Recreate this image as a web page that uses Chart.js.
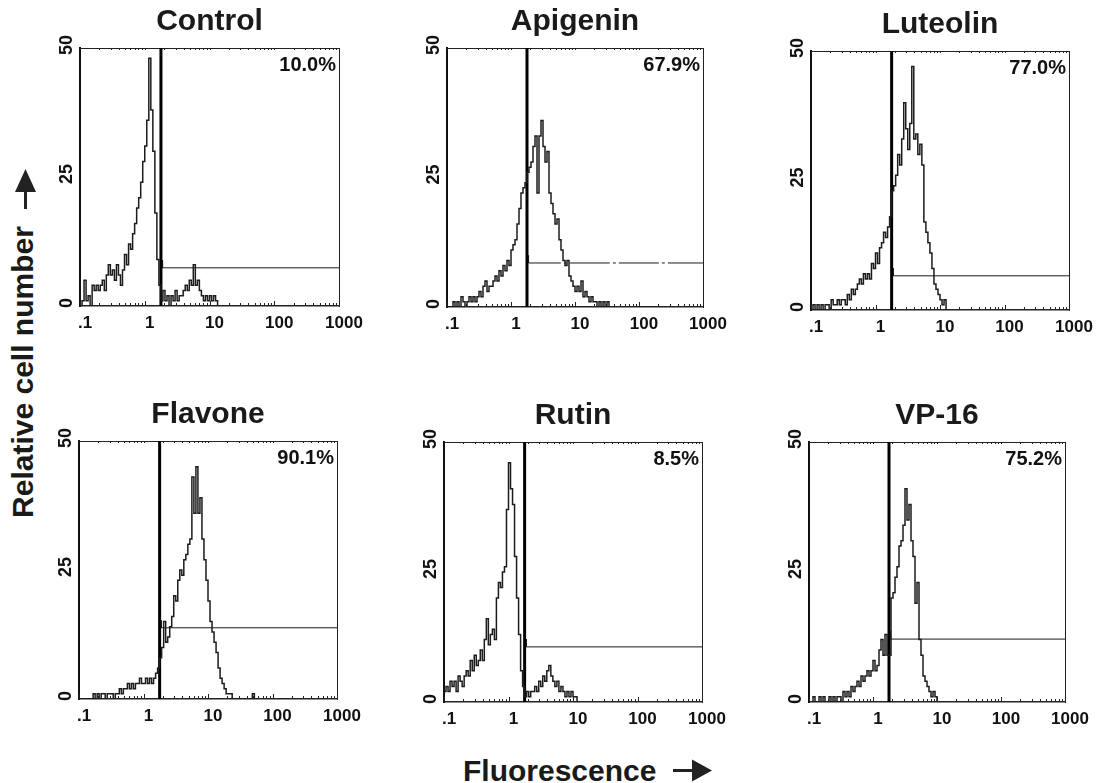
<!DOCTYPE html>
<html>
<head>
<meta charset="utf-8">
<title>Flow cytometry histograms</title>
<script src="https://cdn.jsdelivr.net/npm/chart.js@4.4.1/dist/chart.umd.min.js"></script>
<style>
  html, body { margin: 0; padding: 0; background: #fff; overflow: hidden; }
  body { width: 1098px; height: 783px; position: relative; font-family: "Liberation Sans", Arial, sans-serif; }
  canvas { position: absolute; }
  .axis-title { position: absolute; font-weight: bold; font-size: 30px; line-height: 1; color: #1a1a1a; white-space: nowrap; }
  #ytitle { left: 23px; top: 372px; transform: translate(-50%, -50%) rotate(-90deg); }
  #xtitle { left: 463px; top: 756px; }
  #arrows { position: absolute; left: 0; top: 0; }
</style>
</head>
<body>
<div class="axis-title" id="ytitle">Relative cell number</div>
<div class="axis-title" id="xtitle">Fluorescence</div>
<svg id="arrows" width="1098" height="783">
  <rect x="24" y="190" width="3" height="19" fill="#222"/>
  <polygon points="25.5,169 15,192 36,192" fill="#222"/>
  <rect x="673" y="769" width="21" height="3" fill="#222"/>
  <polygon points="712,770.5 692,759.5 692,781.5" fill="#222"/>
</svg>

<script>
// Histogram counts per log channel bin (32 bins per decade, bin 0 starts at .1)
const controlCounts = [
  0, 1, 5, 1, 2, 0, 4, 3, 4, 3,
  4, 5, 3, 6, 8, 6, 7, 5, 8, 6,
  4, 7, 10, 8, 12, 11, 14, 16, 19, 21,
  24, 28, 31, 36, 48, 38, 30, 18, 9, 4,
  1, 3, 1, 2, 0, 2, 1, 3, 1, 2,
  2, 3, 4, 3, 5, 4, 8, 4, 5, 3,
  2, 1, 2, 1, 2, 1, 2, 1, 0
];
const apigeninCounts = [
  0, 0, 0, 1, 0, 1, 0, 2, 1, 0,
  1, 2, 1, 2, 1, 2, 3, 2, 4, 5,
  3, 4, 4, 5, 6, 5, 7, 6, 8, 7,
  9, 8, 11, 12, 13, 16, 19, 22, 23, 24,
  26, 27, 28, 31, 33, 22, 33, 36, 31, 28,
  30, 22, 20, 18, 16, 17, 13, 11, 9, 8,
  9, 6, 5, 4, 3, 4, 3, 5, 2, 3,
  2, 1, 2, 1, 1, 0, 1, 0, 1, 0,
  1, 0
];
const luteolinCounts = [
  0, 1, 0, 1, 0, 1, 0, 1, 1, 0,
  2, 1, 1, 2, 1, 2, 2, 1, 3, 2,
  4, 3, 4, 5, 6, 5, 7, 6, 7, 6,
  9, 8, 11, 9, 12, 13, 15, 14, 16, 18,
  23, 24, 26, 30, 28, 33, 40, 35, 31, 36,
  47, 33, 34, 30, 32, 28, 17, 15, 13, 11,
  8, 5, 4, 3, 2, 1, 2, 0
];
const flavoneCounts = [
  0, 0, 0, 0, 0, 0, 0, 1, 0, 1,
  0, 1, 1, 0, 1, 1, 1, 0, 1, 1,
  2, 1, 2, 2, 3, 2, 3, 2, 3, 3,
  4, 3, 3, 4, 3, 4, 3, 4, 5, 6,
  8, 10, 15, 11, 12, 14, 16, 20, 19, 23,
  25, 24, 27, 28, 30, 31, 43, 36, 45, 36,
  39, 31, 27, 23, 19, 15, 13, 11, 9, 6,
  4, 3, 2, 1, 1, 1, 0, 0, 0, 0,
  0, 0, 0, 0, 0, 0, 1, 0
];
const rutinCounts = [
  2, 3, 2, 4, 3, 4, 2, 5, 4, 3,
  5, 6, 5, 8, 6, 9, 7, 8, 10, 8,
  12, 16, 11, 13, 14, 12, 20, 23, 22, 25,
  26, 37, 46, 41, 38, 28, 20, 13, 6, 3,
  1, 2, 1, 2, 2, 3, 2, 4, 3, 5,
  4, 6, 7, 5, 4, 3, 4, 2, 3, 2,
  1, 2, 1, 2, 1, 1, 0
];
const vp16Counts = [
  0, 0, 1, 0, 0, 1, 0, 1, 0, 0,
  1, 0, 1, 0, 1, 1, 0, 2, 1, 2,
  1, 3, 2, 3, 4, 3, 5, 4, 5, 6,
  5, 6, 8, 6, 7, 10, 12, 9, 13, 9,
  9, 20, 21, 24, 26, 30, 31, 34, 41, 35,
  38, 31, 28, 19, 23, 12, 9, 5, 4, 3,
  2, 1, 2, 1, 0
];

const panelTitles = ['Control', 'Apigenin', 'Luteolin', 'Flavone', 'Rutin', 'VP-16'];
const panelCounts = [controlCounts, apigeninCounts, luteolinCounts, flavoneCounts, rutinCounts, vp16Counts];
const percentLabels = ['10.0%', '67.9%', '77.0%', '90.1%', '8.5%', '75.2%'];
const markerLevels = [7.4, 8.5, 6.6, 13.8, 10.6, 12.1];

const xTickLabels = ['.1', '1', '10', '100', '1000'];
const yTickValues = [0, 25, 50];
const GATE_CHANNEL = 40;      // gate sits a bit above 1
const CH_PER_DECADE = 32;
const CH_MAX = 128;

// plot boxes on the page: left, top, width, height
const boxes = [
  [80, 48, 259, 258], [447, 48, 256, 259], [811, 51, 258, 259],
  [79, 441, 258, 258], [444, 442, 258, 260], [809, 442, 256, 260]
];
const PAD_L = 60, PAD_R = 32, PAD_T = 9, X_AXIS_H = 32;

Chart.defaults.font.family = '"Liberation Sans", Arial, sans-serif';
Chart.defaults.color = '#111';

// rotated y labels, inward ticks and the percentage in the corner
const panelDecor = {
  id: 'panelDecor',
  afterDatasetsDraw(chart, args, opts) {
    const { ctx, chartArea: a, scales: { x, y } } = chart;
    ctx.save();
    ctx.strokeStyle = '#222';
    ctx.lineWidth = 1;
    ctx.beginPath();
    for (let d = 0; d < 4; d++) {
      for (let m = 1; m <= 9; m++) {
        const px = Math.round(x.getPixelForValue(CH_PER_DECADE * (d + Math.log10(m)))) + 0.5;
        const len = m === 1 ? 5 : 3;
        ctx.moveTo(px, a.bottom);
        ctx.lineTo(px, a.bottom - len);
        ctx.moveTo(px, a.top);
        ctx.lineTo(px, a.top + 2);
      }
    }
    ctx.stroke();

    ctx.fillStyle = '#111';
    ctx.font = 'bold 18px "Liberation Sans", Arial, sans-serif';
    ctx.textAlign = 'center';
    ctx.textBaseline = 'middle';
    for (const v of yTickValues) {
      ctx.save();
      ctx.translate(a.left - 13, y.getPixelForValue(v) - 3);
      ctx.rotate(-Math.PI / 2);
      ctx.fillText(String(v), 0, 0);
      ctx.restore();
    }

    ctx.font = 'bold 20px "Liberation Sans", Arial, sans-serif';
    ctx.textAlign = 'right';
    ctx.textBaseline = 'alphabetic';
    ctx.fillText(opts.pct, a.right - 3, a.top + 23);
    ctx.restore();
  }
};

function zeroPadding(scale) {
  scale.paddingLeft = 0; scale.paddingRight = 0;
  scale.paddingTop = 0; scale.paddingBottom = 0;
}

function frameScale(position, axis) {
  return {
    type: 'linear', position, axis, display: true,
    ticks: { display: false },
    grid: { display: false, drawTicks: false },
    border: { display: true, color: '#222', width: 1 },
    afterFit: (s) => { zeroPadding(s); if (axis === 'x') s.height = 0; else s.width = 0; }
  };
}

function makePanel(i) {
  const [bx, by, bw, bh] = boxes[i];
  const canvas = document.createElement('canvas');
  canvas.width = bw + PAD_L + PAD_R;
  canvas.height = bh + PAD_T + 41 + X_AXIS_H;
  canvas.style.left = (bx - PAD_L) + 'px';
  canvas.style.top = (by - PAD_T - 41) + 'px';
  document.body.appendChild(canvas);

  const hist = panelCounts[i].map((v, k) => ({ x: k + 0.5, y: v }));
  const m = markerLevels[i];

  new Chart(canvas, {
    type: 'line',
    data: {
      datasets: [
        { data: hist, borderColor: '#1c1c1c', borderWidth: 1.5, pointRadius: 0, stepped: 'middle' },
        { data: [{ x: GATE_CHANNEL, y: 0 }, { x: GATE_CHANNEL, y: 50 }], borderColor: '#000', borderWidth: 3, pointRadius: 0 },
        {
          data: [{ x: GATE_CHANNEL + 0.8, y: m + 1.5 }, { x: GATE_CHANNEL + 0.8, y: m }, { x: CH_MAX, y: m }],
          borderColor: '#1a1a1a', borderWidth: 1, pointRadius: 0,
          borderDash: i === 1 ? [40, 3, 3, 3] : []
        }
      ]
    },
    options: {
      responsive: false,
      animation: false,
      events: [],
      layout: { padding: { left: PAD_L, right: PAD_R, top: PAD_T, bottom: 0 } },
      plugins: {
        legend: { display: false },
        tooltip: { enabled: false },
        title: {
          display: true, text: panelTitles[i], color: '#1a1a1a',
          font: { size: 30, weight: 'bold', lineHeight: 1 },
          padding: { top: 0, bottom: 11 }
        },
        panelDecor: { pct: percentLabels[i] }
      },
      scales: {
        x: {
          type: 'linear', min: 0, max: CH_MAX,
          grid: { display: false, drawTicks: false },
          border: { color: '#222', width: 1.5 },
          ticks: {
            stepSize: CH_PER_DECADE, autoSkip: false, maxRotation: 0,
            padding: 7, labelOffset: 5, color: '#111',
            font: { size: 17, weight: 'bold' },
            callback: (v) => xTickLabels[v / CH_PER_DECADE]
          },
          afterFit: (s) => { zeroPadding(s); s.height = X_AXIS_H; }
        },
        y: {
          type: 'linear', min: 0, max: 50,
          grid: { display: false, drawTicks: false },
          border: { color: '#111', width: 2 },
          ticks: { display: false },
          afterFit: (s) => { zeroPadding(s); s.width = 0; }
        },
        xTop: frameScale('top', 'x'),
        yRight: frameScale('right', 'y')
      }
    },
    plugins: [panelDecor]
  });
}

for (let i = 0; i < panelTitles.length; i++) makePanel(i);
</script>
</body>
</html>
